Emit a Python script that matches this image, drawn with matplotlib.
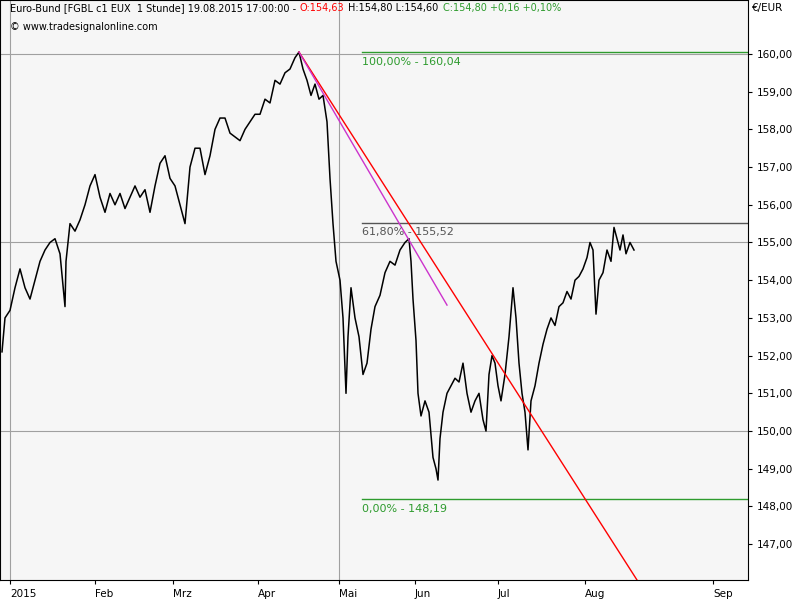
import matplotlib.pyplot as plt

# time axis in chart units (bar position) and hourly price closes
bars = [2, 5, 10, 15, 20, 25, 30, 35, 40, 45, 50, 55, 60, 65, 66, 70, 75, 80, 85, 90,
        95, 100, 105, 110, 115, 120, 125, 130, 135, 140, 145, 150, 155, 160, 165, 170,
        175, 180, 185, 190, 195, 200, 205, 210, 215, 220, 225, 230, 235, 240, 245, 250,
        255, 260, 265, 270, 275, 280, 285, 290, 295, 299, 303, 307, 311, 315, 319, 323,
        327, 330, 333, 336, 340, 343, 346, 348, 351, 355, 359, 363, 367, 371, 375, 380,
        385, 390, 395, 400, 405, 409, 411, 413, 416, 418, 421, 425, 429, 433, 436, 438,
        440, 443, 447, 451, 455, 459, 463, 467, 471, 475, 479, 483, 486, 489, 492, 495,
        498, 501, 505, 509, 513, 516, 519, 522, 525, 528, 531, 535, 539, 543, 547, 551,
        555, 559, 563, 567, 571, 575, 579, 583, 587, 590, 593, 596, 599, 603, 607, 611,
        614, 617, 620, 623, 626, 630, 634]
close = [152.1, 153.0, 153.2, 153.8, 154.3, 153.8, 153.5, 154.0, 154.5, 154.8, 155.0, 155.1,
         154.7, 153.3, 154.5, 155.5, 155.3, 155.6, 156.0, 156.5, 156.8, 156.2, 155.8, 156.3,
         156.0, 156.3, 155.9, 156.2, 156.5, 156.2, 156.4, 155.8, 156.5, 157.1, 157.3, 156.7,
         156.5, 156.0, 155.5, 157.0, 157.5, 157.5, 156.8, 157.3, 158.0, 158.3, 158.3, 157.9,
         157.8, 157.7, 158.0, 158.2, 158.4, 158.4, 158.8, 158.7, 159.3, 159.2, 159.5, 159.6,
         159.9, 160.05, 159.6, 159.3, 158.9, 159.2, 158.8, 158.9, 158.2, 156.7, 155.5, 154.5,
         154.0, 153.0, 151.0, 152.5, 153.8, 153.0, 152.5, 151.5, 151.8, 152.7, 153.3, 153.6,
         154.2, 154.5, 154.4, 154.8, 155.0, 155.1, 154.5, 153.5, 152.4, 151.0, 150.4, 150.8,
         150.5, 149.3, 149.0, 148.7, 149.8, 150.5, 151.0, 151.2, 151.4, 151.3, 151.8, 151.0,
         150.5, 150.8, 151.0, 150.3, 150.0, 151.5, 152.0, 151.8, 151.2, 150.8, 151.5, 152.5,
         153.8, 153.0, 151.8, 151.0, 150.5, 149.5, 150.8, 151.2, 151.8, 152.3, 152.7, 153.0,
         152.8, 153.3, 153.4, 153.7, 153.5, 154.0, 154.1, 154.3, 154.6, 155.0, 154.8, 153.1,
         154.0, 154.2, 154.8, 154.5, 155.4, 155.1, 154.8, 155.2, 154.7, 155.0, 154.8]

month_labels = ["2015", "Feb", "Mrz", "Apr", "Mai", "Jun", "Jul", "Aug", "Sep"]
month_pos = [10, 95, 173, 258, 339, 415, 498, 585, 713]

fib_levels = [160.04, 155.52, 148.19]
fib_labels = ["100,00% - 160,04", "61,80% - 155,52", "0,00% - 148,19"]
fib_colors = ["#2e9b2e", "#555555", "#2e9b2e"]

trend_red = ([299, 637], [160.05, 146.05])
trend_magenta = ([299, 447], [160.05, 153.34])

header_parts = [("Euro-Bund [FGBL c1 EUX  1 Stunde] 19.08.2015 17:00:00 -", "black"),
                ("O:154,63", "red"),
                ("H:154,80 L:154,60", "black"),
                ("C:154,80 +0,16 +0,10%", "#2e9b2e")]

fig = plt.figure(figsize=(8, 6), dpi=100)
ax = fig.add_axes([0.0, 20 / 600, 748 / 800, 580 / 600])
ax.set_facecolor("#f6f6f6")
ax.set_xlim(0, 748)
ax.set_ylim(146.05, 161.43)

for lvl in [150, 155, 160]:
    ax.axhline(lvl, color="#a0a0a0", lw=0.8)
for x in [10, 339]:
    ax.axvline(x, color="#a0a0a0", lw=0.8)

ax.plot(bars, close, color="black", lw=1.1)

for lvl, lab, c in zip(fib_levels, fib_labels, fib_colors):
    ax.plot([362, 748], [lvl, lvl], color=c, lw=1)
    ax.text(362, lvl - 0.12, lab, color=c, fontsize=8, va="top", ha="left")

ax.plot(*trend_red, color="red", lw=1)
ax.plot(*trend_magenta, color="#cc33cc", lw=1)

ax.yaxis.tick_right()
ax.set_yticks(range(147, 161))
ax.set_yticklabels([f"{v},00" for v in range(147, 161)], fontsize=7.5)
ax.set_xticks(month_pos)
ax.set_xticklabels(month_labels, fontsize=7.5, ha="left")
ax.tick_params(length=3)

# header: chain each piece to the right of the previous one
prev = fig.text(0.012, 0.982, header_parts[0][0], fontsize=7, va="baseline",
                color=header_parts[0][1])
for txt, col in header_parts[1:]:
    prev = fig.text(0, 0, txt, fontsize=7, color=col, va="baseline",
                    transform=prev.get_transform())
    # placed after drawing below
fig.canvas.draw()
texts = fig.texts[:]
for i in range(1, len(texts)):
    bb = texts[i - 1].get_window_extent()
    x0 = (bb.x1 + 4) / fig.bbox.width
    texts[i].set_position((x0, 0.982))

fig.text(0.012, 0.955, "© www.tradesignalonline.com", fontsize=7, va="center")
fig.text(0.94, 0.982, "€/EUR", fontsize=7.5, va="baseline")

fig.savefig("out.png", dpi=100)
